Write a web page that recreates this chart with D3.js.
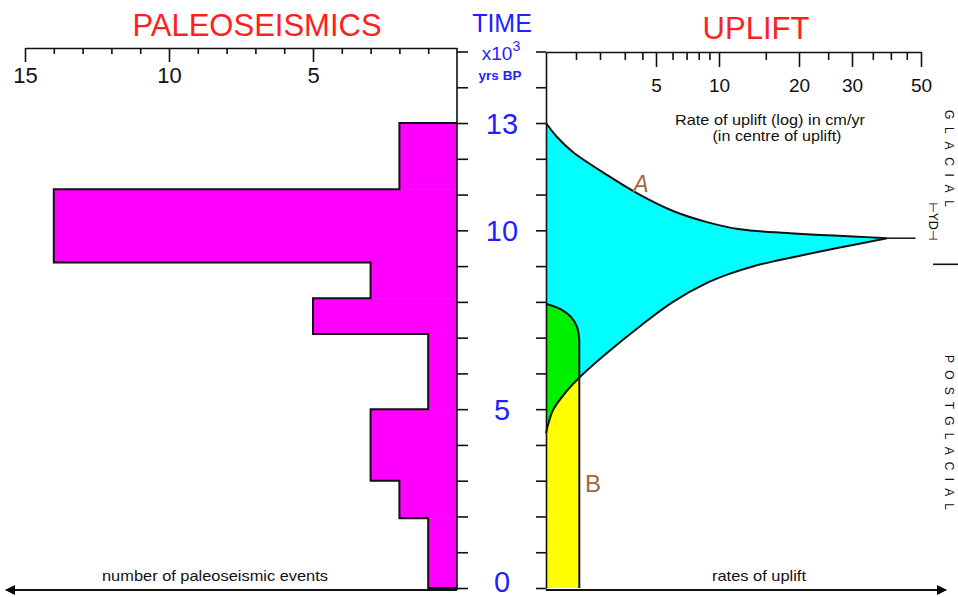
<!DOCTYPE html>
<html>
<head>
<meta charset="utf-8">
<script src="https://cdn.jsdelivr.net/npm/d3@7"></script>
<style>
  body { margin: 0; background: #fff; }
  text { font-family: "Liberation Sans", Arial, Helvetica, sans-serif; }
</style>
</head>
<body>
<div id="body"></div>
<script>
// Paleoseismic events per time bin (time in x10^3 yrs BP)
const binStart = [0, 1.95, 3, 5, 7.1, 8.1, 9.1, 11.15];
const binEnd = [1.95, 3, 5, 7.1, 8.1, 9.1, 11.15, 13];
const eventCounts = [1, 2, 3, 1, 5, 3, 14, 2];

// Envelope A - upper edge (time, uplift rate cm/yr)
const aUpperTime = [13, 12.61, 12.19, 11.55, 10.99, 10.54, 10.23, 10.03, 9.925, 9.87, 9.83, 9.78];
const aUpperRate = [0.5, 0.645, 0.93, 2.24, 3.85, 6.03, 8.76, 12.0, 18.0, 23.5, 30.2, 38.9];
// Envelope A - lower edge
const aLowerTime = [9.78, 9.59, 9.41, 9.25, 9.14, 8.99, 8.79, 8.53, 8.0, 7.32, 6.57, 5.9, 5.51, 4.98, 4.33];
const aLowerRate = [38.9, 30.2, 23.5, 19.0, 16.2, 13.4, 11.0, 8.76, 6.03, 3.85, 2.24, 1.12, 0.81, 0.59, 0.5];
// Envelope B - rounded top, then constant rate down to present
const bTopTime = [7.94, 7.91, 7.8, 7.58, 7.3, 6.93];
const bTopRate = [0.5, 0.55, 0.7, 0.89, 1.03, 1.1];
const bRate = 1.1;

// Ticks / labels
const timeLabels = [0, 5, 10, 13];
const timeTicks = [0, 1, 2, 3, 4, 5, 6, 7, 8, 9, 10, 11, 12, 13, 14, 15];
const countLabels = [15, 10, 5];
const countMinor = [1, 2, 3, 4, 6, 7, 8, 9, 11, 12, 13, 14];
const rateLabels = [5, 10, 20, 30, 50];
const rateMinor = [1, 2, 3, 4, 6, 7, 8, 9, 15, 25, 35, 40, 45];
const ydTime = 10.25;
const glacialEnd = 9.05;

const width = 958;
const height = 597;
const blue = "#1f1fff";
const red = "#ff1f1f";
const brown = "#a06a3a";

const svg = d3.select("#body")
              .append("svg")
              .attr("width", width)
              .attr("height", height);

// scales
const yTime = d3.scaleLinear().domain([0, 15]).range([588, 51.5]);
const xCount = d3.scaleLinear().domain([0, 15]).range([457, 25]);
// the printed log axis is hand drawn, so calibrate it piecewise on its labelled ticks
const xRate = d3.scaleLog()
                .domain([0.5, 1, 2, 5, 10, 20, 30, 50])
                .range([546, 576, 600, 656, 719, 799, 852, 921]);

const defs = svg.append("defs");
defs.append("marker")
    .attr("id", "arrow")
    .attr("viewBox", "0 0 10 10")
    .attr("refX", 9).attr("refY", 5)
    .attr("markerWidth", 14).attr("markerHeight", 10)
    .attr("markerUnits", "userSpaceOnUse")
    .attr("orient", "auto")
    .append("path")
    .attr("d", "M0,0 L10,5 L0,10 Z")
    .attr("fill", "#000");

// ---------- left panel: histogram ----------
const bins = eventCounts.map((c, i) => ({ c: c, s: binStart[i], e: binEnd[i] }));

svg.append("g")
   .selectAll("rect")
   .data(bins)
   .enter()
   .append("rect")
   .attr("x", d => xCount(d.c))
   .attr("y", d => yTime(d.e))
   .attr("width", d => xCount(0) - xCount(d.c))
   .attr("height", d => yTime(d.s) - yTime(d.e) + 0.5)
   .attr("fill", "#ff00ff");

// step outline
const outline = [[0, 0]];
bins.forEach(b => { outline.push([b.c, b.s]); outline.push([b.c, b.e]); });
outline.push([0, binEnd[binEnd.length - 1]]);
svg.append("path")
   .attr("d", d3.line().x(d => xCount(d[0])).y(d => yTime(d[1]))(outline))
   .attr("fill", "none")
   .attr("stroke", "#111")
   .attr("stroke-width", 2);

// ---------- right panel: uplift envelopes ----------
const pt = (t, r) => [r, t];
const aUpper = aUpperTime.map((t, i) => pt(t, aUpperRate[i]));
const aLower = aLowerTime.map((t, i) => pt(t, aLowerRate[i]));
const bTop = bTopTime.map((t, i) => pt(t, bTopRate[i]));
const bEdge = [pt(bTopTime[bTopTime.length - 1], bRate), pt(0, bRate)];

const smooth = d3.line().x(d => xRate(d[0])).y(d => yTime(d[1])).curve(d3.curveCatmullRom.alpha(0.5));
const straight = d3.line().x(d => xRate(d[0])).y(d => yTime(d[1]));

const aPath = smooth(aUpper) + smooth(aLower).replace(/^M/, "L") + "Z";
const bPath = smooth(bTop) + straight(bEdge).replace(/^M/, "L") +
              straight([pt(0, bRate), pt(0, 0.5)]).replace(/^M/, "L") + "Z";

defs.append("clipPath").attr("id", "clipB").append("path").attr("d", bPath);

svg.append("path").attr("d", bPath).attr("fill", "#ffff00");
svg.append("path").attr("d", aPath).attr("fill", "#00ffff");
svg.append("path").attr("d", aPath).attr("fill", "#00f000").attr("clip-path", "url(#clipB)");

svg.append("path")
   .attr("d", smooth(aUpper) + smooth(aLower).replace(/^M/, "L"))
   .attr("fill", "none").attr("stroke", "#111").attr("stroke-width", 2);
svg.append("path")
   .attr("d", smooth(bTop) + straight(bEdge).replace(/^M/, "L"))
   .attr("fill", "none").attr("stroke", "#111").attr("stroke-width", 2);

// tip continuation line
const tip = aUpper[aUpper.length - 1];
svg.append("path")
   .attr("d", straight([tip, [48, tip[1]]]))
   .attr("stroke", "#111").attr("stroke-width", 1.5);

// ---------- axes ----------
function styleAxis(g) {
  g.selectAll("path, line").attr("stroke", "#111").attr("stroke-width", 1.6);
  g.attr("font-family", null).attr("font-size", null);
}

// count axis (top left)
svg.append("g")
   .attr("transform", "translate(0,48)")
   .call(d3.axisBottom(xCount).tickValues(countLabels).tickSize(14).tickSizeOuter(0).tickPadding(5))
   .call(styleAxis)
   .call(g => g.selectAll("text").attr("fill", "#111").style("font-size", "22px"));
svg.append("g")
   .attr("transform", "translate(0,48)")
   .call(d3.axisBottom(xCount).tickValues(countMinor).tickSize(6).tickFormat(""))
   .call(styleAxis)
   .call(g => g.select(".domain").remove());

// rate axis (top right)
svg.append("g")
   .attr("transform", "translate(0,52)")
   .call(d3.axisBottom(xRate).tickValues(rateLabels).tickSize(15).tickSizeOuter(0).tickPadding(12).tickFormat(d3.format("d")))
   .call(styleAxis)
   .call(g => g.selectAll("text").attr("fill", "#111").style("font-size", "19px"));
svg.append("g")
   .attr("transform", "translate(0,52)")
   .call(d3.axisBottom(xRate).tickValues(rateMinor).tickSize(8).tickFormat(""))
   .call(styleAxis)
   .call(g => g.select(".domain").remove());

// time axes
svg.append("g")
   .attr("transform", "translate(457,0)")
   .call(d3.axisRight(yTime).tickValues(timeTicks).tickSize(11).tickFormat(""))
   .call(styleAxis)
   .call(g => g.select(".domain").remove());
svg.append("line")
   .attr("x1", 457).attr("x2", 457)
   .attr("y1", 48).attr("y2", yTime(0) + 2)
   .attr("stroke", "#111").attr("stroke-width", 1.6);

svg.append("g")
   .attr("transform", "translate(546,0)")
   .call(d3.axisLeft(yTime).tickValues(timeTicks).tickSize(10).tickSizeOuter(0).tickFormat(""))
   .call(styleAxis);

// time labels
svg.append("g")
   .selectAll("text")
   .data(timeLabels)
   .enter()
   .append("text")
   .attr("x", 502)
   .attr("y", d => Math.min(yTime(d) + 11, 592))
   .attr("text-anchor", "middle")
   .attr("fill", blue)
   .style("font-size", "29px")
   .text(d => d);

// bottom arrows
svg.append("line")
   .attr("x1", 457).attr("x2", 6).attr("y1", 590).attr("y2", 590)
   .attr("stroke", "#111").attr("stroke-width", 2)
   .attr("marker-end", "url(#arrow)");
svg.append("line")
   .attr("x1", 546).attr("x2", 946).attr("y1", 590).attr("y2", 590)
   .attr("stroke", "#111").attr("stroke-width", 2)
   .attr("marker-end", "url(#arrow)");

// ---------- text ----------
svg.append("text").attr("x", 257).attr("y", 36).attr("text-anchor", "middle")
   .attr("fill", red).style("font-size", "31px").text("PALEOSEISMICS");
svg.append("text").attr("x", 756).attr("y", 39).attr("text-anchor", "middle")
   .attr("fill", red).style("font-size", "31px").text("UPLIFT");

svg.append("text").attr("x", 502).attr("y", 32).attr("text-anchor", "middle")
   .attr("fill", blue).style("font-size", "25px").text("TIME");
const xt = svg.append("text").attr("x", 501).attr("y", 60).attr("text-anchor", "middle")
   .attr("fill", blue).style("font-size", "19px");
xt.append("tspan").text("x10");
xt.append("tspan").attr("dy", -9).style("font-size", "14px").text("3");
svg.append("text").attr("x", 500).attr("y", 80).attr("text-anchor", "middle")
   .attr("fill", blue).style("font-size", "13.5px").style("font-weight", "bold").text("yrs BP");

svg.append("text").attr("x", 770).attr("y", 125).attr("text-anchor", "middle")
   .attr("fill", "#111").style("font-size", "15px")
   .attr("textLength", 190).attr("lengthAdjust", "spacingAndGlyphs")
   .text("Rate of uplift (log) in cm/yr");
svg.append("text").attr("x", 777).attr("y", 141).attr("text-anchor", "middle")
   .attr("fill", "#111").style("font-size", "15px")
   .attr("textLength", 129).attr("lengthAdjust", "spacingAndGlyphs")
   .text("(in centre of uplift)");

svg.append("text").attr("x", 215).attr("y", 581).attr("text-anchor", "middle")
   .attr("fill", "#111").style("font-size", "15px")
   .attr("textLength", 226).attr("lengthAdjust", "spacingAndGlyphs")
   .text("number of paleoseismic events");
svg.append("text").attr("x", 759).attr("y", 581).attr("text-anchor", "middle")
   .attr("fill", "#111").style("font-size", "15px")
   .attr("textLength", 94).attr("lengthAdjust", "spacingAndGlyphs")
   .text("rates of uplift");

svg.append("text").attr("x", 641).attr("y", 192).attr("text-anchor", "middle")
   .attr("fill", brown).style("font-size", "23px").style("font-style", "italic").text("A");
svg.append("text").attr("x", 593).attr("y", 492).attr("text-anchor", "middle")
   .attr("fill", brown).style("font-size", "24px").text("B");

// glacial / postglacial labels
svg.append("text")
   .attr("transform", "translate(945,110) rotate(90)")
   .attr("fill", "#111").style("font-size", "12px")
   .attr("textLength", 97).attr("lengthAdjust", "spacing")
   .text("GLACIAL");
svg.append("text")
   .attr("transform", "translate(945,355) rotate(90)")
   .attr("fill", "#111").style("font-size", "12px")
   .attr("textLength", 155).attr("lengthAdjust", "spacing")
   .text("POSTGLACIAL");
svg.append("text")
   .attr("transform", "translate(929," + yTime(ydTime) + ") rotate(90)")
   .attr("text-anchor", "middle")
   .attr("fill", "#111").style("font-size", "12px")
   .style("font-family", "DejaVu Sans")
   .attr("textLength", 38).attr("lengthAdjust", "spacingAndGlyphs")
   .text("\u22A2YD\u22A3");
svg.append("line")
   .attr("x1", 933).attr("x2", 958)
   .attr("y1", yTime(glacialEnd)).attr("y2", yTime(glacialEnd))
   .attr("stroke", "#111").attr("stroke-width", 1.6);
</script>
</body>
</html>
